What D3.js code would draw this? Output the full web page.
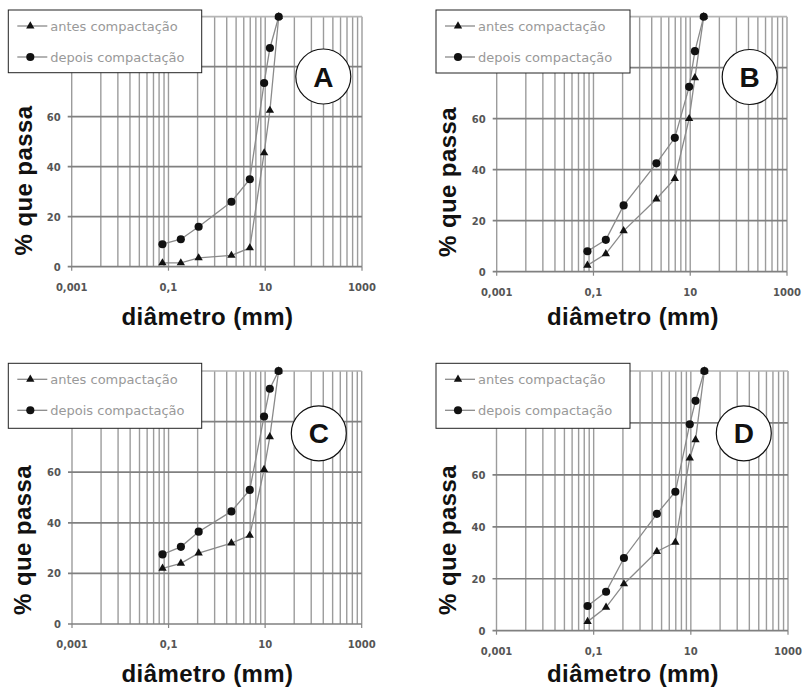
<!DOCTYPE html>
<html lang="pt">
<head>
<meta charset="utf-8">
<title>Granulometria</title>
<script src="https://cdn.jsdelivr.net/npm/d3@7"></script>
<style>
  body { margin: 0; background: #fff; }
  svg { display: block; }
</style>
</head>
<body>
<script>
// peneiras (mm)
var diametros = [0.075, 0.18, 0.42, 2.0, 4.8, 9.5, 12.5, 19.0];

var antesA  = [1.5, 1.5, 3.5, 4.5, 7.5, 45.5, 62.5, 100];
var depoisA = [9, 11, 16, 26, 35, 73.5, 87.5, 100];
var antesB  = [2.5, 7, 16, 28.5, 36.5, 60, 76, 100];
var depoisB = [8, 12.5, 26, 42.5, 52.5, 72.5, 86.5, 100];
var antesC  = [22, 24, 28, 32, 35, 61, 74, 100];
var depoisC = [27.5, 30.5, 36.5, 44.5, 53, 82, 93, 100];
var antesD  = [3.5, 9, 18, 30.5, 34, 66.5, 73.5, 100];
var depoisD = [9.5, 15, 28, 45, 53.5, 79.5, 88.5, 100];

var seriesNames = ["antes compactação", "depois compactação"];
var panelLetters = ["A", "B", "C", "D"];
var xTicks = [0.001, 0.1, 10, 1000];
var xTickLabels = ["0,001", "0,1", "10", "1000"];
var yTicks = [0, 20, 40, 60, 80, 100];
var yTickLabels = [0, 20, 40, 60]; // 80 and 100 sit under the legend

var w = 804, h = 688;

// layout of each panel (pixels)
var layout = [
  {x0: 71.7, x1: 362, yTop: 16.7, yBot: 266.7, leg: [8.3, 10, 193.4, 62.7], circ: [323.3, 76.5], yt: [24, 180.5], xt: [207.5, 325]},
  {x0: 496.7, x1: 787, yTop: 16.7, yBot: 271.7, leg: [436, 10, 194, 63], circ: [749.7, 77], yt: [448, 182], xt: [633, 325]},
  {x0: 72, x1: 361.7, yTop: 371, yBot: 624, leg: [8.3, 363.3, 193.4, 65], circ: [318.8, 433.3], yt: [23, 540], xt: [207.5, 682]},
  {x0: 496.5, x1: 788, yTop: 371, yBot: 630.7, leg: [436, 363.3, 194, 65], circ: [743.8, 433.3], yt: [448, 540], xt: [633, 682]}
];

var panelData = [
  [antesA, depoisA],
  [antesB, depoisB],
  [antesC, depoisC],
  [antesD, depoisD]
];

var svg = d3.select("body").append("svg")
  .attr("width", w)
  .attr("height", h);

var defs = svg.append("defs");
defs.append("filter").attr("id", "soft")
  .append("feGaussianBlur").attr("stdDeviation", 0.45);

var triangle = d3.symbol().type(d3.symbolTriangle).size(30);
var circle = d3.symbol().type(d3.symbolCircle).size(52);
var markers = [triangle, circle];

// minor grid: within each 2-decade interval, at major * k^2
var minor = [];
for (var i = 0; i < xTicks.length - 1; i++) {
  for (var k = 2; k <= 9; k++) minor.push(xTicks[i] * k * k);
}

layout.forEach(function(L, p) {
  var x = d3.scaleLog().domain([0.001, 1000]).range([L.x0, L.x1]);
  var y = d3.scaleLinear().domain([0, 100]).range([L.yBot, L.yTop]);
  var g = svg.append("g");
  var grid = g.append("g").attr("filter", "url(#soft)");

  // vertical grid
  grid.selectAll(".vg").data(minor.concat(xTicks)).enter().append("line")
    .attr("x1", function(d) { return x(d); })
    .attr("x2", function(d) { return x(d); })
    .attr("y1", y(100)).attr("y2", y(0))
    .attr("stroke", "#9c9c9c").attr("stroke-width", 1.4);

  // horizontal grid
  grid.selectAll(".hg").data(yTicks).enter().append("line")
    .attr("x1", L.x0 - 4).attr("x2", L.x1)
    .attr("y1", function(d) { return y(d); })
    .attr("y2", function(d) { return y(d); })
    .attr("stroke", function(d) { return d == 100 ? "#b5b5b5" : "#808080"; })
    .attr("stroke-width", 1.7);

  // x ticks
  grid.selectAll(".xt").data(xTicks).enter().append("line")
    .attr("x1", function(d) { return x(d); })
    .attr("x2", function(d) { return x(d); })
    .attr("y1", y(0)).attr("y2", y(0) + 4)
    .attr("stroke", "#858585").attr("stroke-width", 1.2);

  g.selectAll(".xl").data(xTicks).enter().append("text")
    .attr("x", function(d) { return x(d); })
    .attr("y", y(0) + 24)
    .attr("text-anchor", "middle")
    .style("font", "bold 10px 'DejaVu Sans'")
    .attr("fill", "#555")
    .text(function(d, i) { return xTickLabels[i]; });

  g.selectAll(".yl").data(yTickLabels).enter().append("text")
    .attr("x", L.x0 - 11)
    .attr("y", function(d) { return y(d) + 4; })
    .attr("text-anchor", "end")
    .style("font", "bold 10px 'DejaVu Sans'")
    .attr("fill", "#555")
    .text(function(d) { return d; });

  // series
  var line = d3.line()
    .x(function(d, i) { return x(diametros[i]); })
    .y(function(d) { return y(d); });

  panelData[p].forEach(function(vals, s) {
    g.append("path")
      .attr("d", line(vals))
      .attr("fill", "none")
      .attr("stroke", "#8a8a8a")
      .attr("stroke-width", 1.3);
  });
  panelData[p].forEach(function(vals, s) {
    g.selectAll(".m" + s).data(vals).enter().append("path")
      .attr("d", markers[s])
      .attr("transform", function(d, i) { return "translate(" + x(diametros[i]) + "," + y(d) + ")"; })
      .attr("fill", "#111");
  });

  // legend
  var lg = g.append("g").attr("transform", "translate(" + L.leg[0] + "," + L.leg[1] + ")");
  lg.append("rect")
    .attr("width", L.leg[2]).attr("height", L.leg[3])
    .attr("fill", "#fff").attr("stroke", "#222").attr("stroke-width", 1);
  seriesNames.forEach(function(name, s) {
    var ry = 16 + s * 31;
    lg.append("line").attr("x1", 9).attr("x2", 39).attr("y1", ry).attr("y2", ry)
      .attr("stroke", "#8a8a8a").attr("stroke-width", 1.3);
    lg.append("path").attr("d", markers[s]).attr("transform", "translate(22," + ry + ")").attr("fill", "#111");
    lg.append("text").attr("x", 42).attr("y", ry + 4.5)
      .style("font", "13px 'DejaVu Sans'")
      .attr("fill", "#999")
      .text(name);
  });

  // panel letter
  g.append("circle").attr("cx", L.circ[0]).attr("cy", L.circ[1]).attr("r", 27.5)
    .attr("fill", "#fff").attr("stroke", "#111").attr("stroke-width", 1.2);
  g.append("text").attr("x", L.circ[0]).attr("y", L.circ[1] + 10)
    .attr("text-anchor", "middle")
    .style("font", "bold 28px 'Liberation Sans'")
    .attr("fill", "#111")
    .text(panelLetters[p]);

  // axis titles
  g.append("text").attr("x", L.xt[0]).attr("y", L.xt[1])
    .attr("text-anchor", "middle")
    .style("font", "bold 24px 'Liberation Sans'")
    .style("letter-spacing", "0.4px")
    .attr("fill", "#111")
    .text("diâmetro (mm)");
  g.append("text")
    .attr("transform", "translate(" + L.yt[0] + "," + L.yt[1] + ") rotate(-90)")
    .attr("text-anchor", "middle")
    .attr("dy", "0.35em")
    .style("font", "bold 24px 'Liberation Sans'")
    .style("letter-spacing", "0.4px")
    .attr("fill", "#111")
    .text("% que passa");
});
</script>
</body>
</html>
